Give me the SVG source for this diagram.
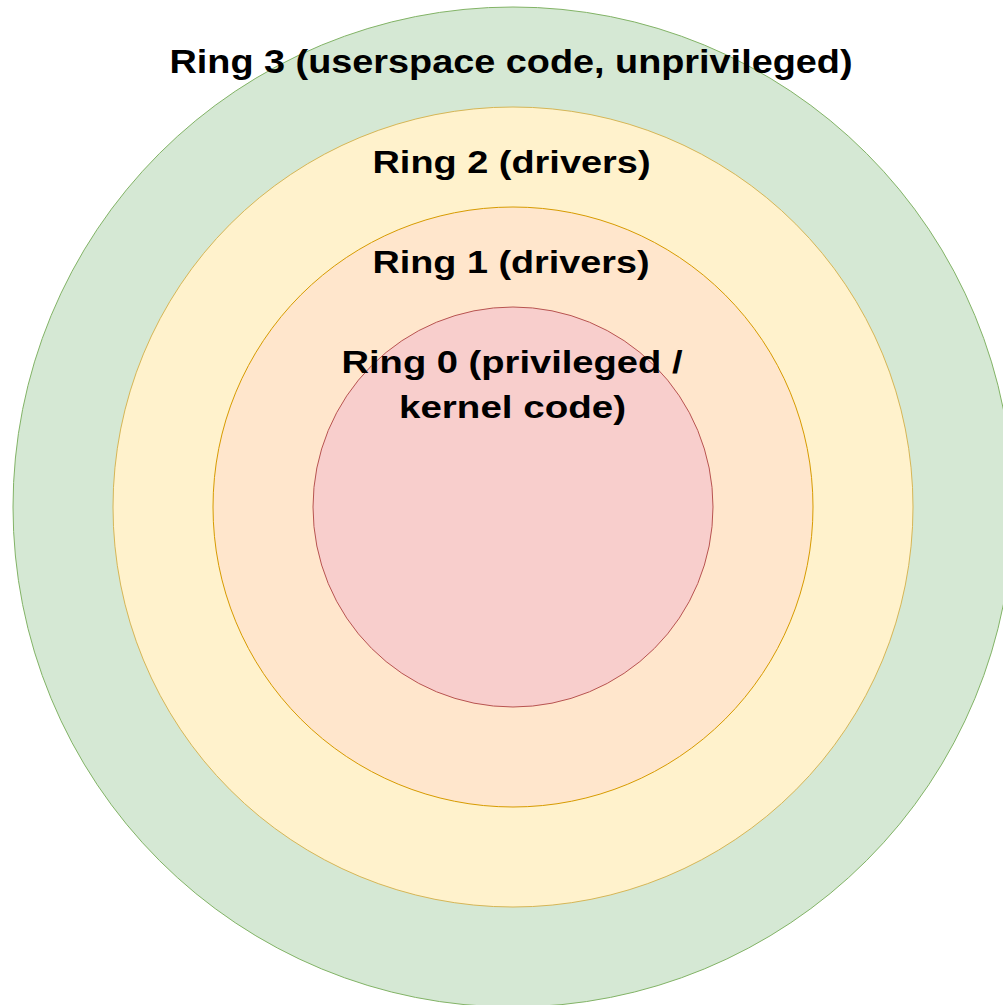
<svg xmlns="http://www.w3.org/2000/svg" width="1003" height="1005" viewBox="0 0 1003 1005">
  <style>
    .ring { stroke-width: 1; }
    .r3 { fill: #d5e8d4; stroke: #82b366; }
    .r2 { fill: #fff2cc; stroke: #d6b656; }
    .r1 { fill: #ffe6cc; stroke: #d79b00; }
    .r0 { fill: #f8cecc; stroke: #b85450; }
    .label { font-family: "Liberation Sans", Arial, sans-serif; font-weight: bold; font-size: 32px; fill: #000000; text-anchor: middle; }
    .big { font-size: 34px; }
  </style>
  <rect x="0" y="0" width="1003" height="1005" fill="#ffffff"/>
  <g id="ring3">
    <circle class="ring r3" cx="513" cy="507" r="500"/>
    <text class="label big" x="511" y="72.5" textLength="683" lengthAdjust="spacingAndGlyphs">Ring 3 (userspace code, unprivileged)</text>
  </g>
  <g id="ring2">
    <circle class="ring r2" cx="513" cy="507" r="400"/>
    <text class="label" x="511.5" y="172.7" textLength="278" lengthAdjust="spacingAndGlyphs">Ring 2 (drivers)</text>
  </g>
  <g id="ring1">
    <circle class="ring r1" cx="513" cy="507" r="300"/>
    <text class="label" x="511" y="272.7" textLength="277" lengthAdjust="spacingAndGlyphs">Ring 1 (drivers)</text>
  </g>
  <g id="ring0">
    <circle class="ring r0" cx="513" cy="507" r="200"/>
    <text class="label" x="512" y="373.3" textLength="341" lengthAdjust="spacingAndGlyphs">Ring 0 (privileged /</text>
    <text class="label" x="512.5" y="418.3" textLength="227" lengthAdjust="spacingAndGlyphs">kernel code)</text>
  </g>
  <g id="connectors"/>
</svg>
